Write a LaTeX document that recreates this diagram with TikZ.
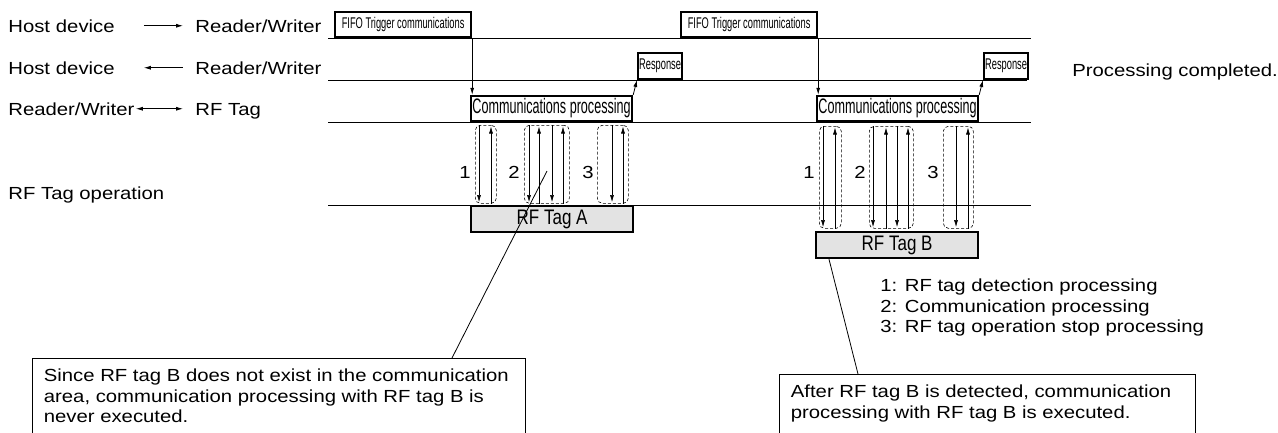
\documentclass[tikz,border=0pt]{standalone}
\usepackage{fontspec}
\setmainfont{Liberation Sans}[FakeStretch=1.16]
\newfontfamily\narrowfont[FakeStretch=0.6]{Liberation Sans}
\newfontfamily\tagfont[FakeStretch=0.81]{Liberation Sans}
\usetikzlibrary{arrows.meta,positioning}

\begin{document}
\begin{tikzpicture}[x=1pt, y=-1pt, >={Latex[length=7pt,width=4pt]}, line width=0.8pt,
	rowlbl/.style={anchor=base west, inner sep=0pt, font=\fontsize{17.5}{20.5}\selectfont},
	leftlbl/.style={rowlbl, text width=#1, align=left},
	thickbox/.style={draw, line width=2.2pt, inner sep=0pt, anchor=south west},
	fifobox/.style={thickbox, minimum width=136pt, minimum height=25pt, font=\narrowfont\fontsize{15.5}{15.5}\selectfont},
	commbox/.style={thickbox, minimum width=161pt, minimum height=25pt, font=\narrowfont\fontsize{21}{21}\selectfont},
	respbox/.style={thickbox, minimum width=44pt, minimum height=26pt, font=\narrowfont\fontsize{15.5}{15.5}\selectfont},
	tagbox/.style={thickbox, anchor=north west, fill=gray!22, minimum width=162pt, minimum height=26pt, font=\tagfont\fontsize{21}{21}\selectfont},
	grp/.style={draw, dash pattern=on 3pt off 2pt, rounded corners=5pt, line width=0.6pt, inner sep=0pt, anchor=north west, minimum width=#1},
	numlbl/.style={inner sep=0pt, font=\fontsize{17.5}{17.5}\selectfont},
	callout/.style={draw, anchor=north west, inner xsep=11.5pt, inner ysep=10.5pt, font=\fontsize{17.5}{20.5}\selectfont},
	timeline/.style={line width=0.8pt}]
	\useasboundingbox (0,0) rectangle (1278,432);
	\node[leftlbl=135pt] (hd1) at (8,32)  {Host device};
	\node[rowlbl]        (rw1) at (195,32) {Reader/Writer};
	\node[leftlbl=135pt] (hd2) at (8,74)  {Host device};
	\node[rowlbl]        (rw2) at (195,74) {Reader/Writer};
	\node[leftlbl=127pt] (rw3) at (8,115) {Reader/Writer};
	\node[rowlbl]        (tg3) at (195,115) {RF Tag};
	\node[rowlbl]        (op4) at (8,199)  {RF Tag operation};
	\node[rowlbl]        (done) at (1072,76) {Processing completed.};
	\draw[->, shorten >=12pt] (hd1.east) -- (rw1.west |- hd1.east);
	\draw[<-, shorten >=12pt] (hd2.east) -- (rw2.west |- hd2.east);
	\draw[<->, shorten >=12pt] (rw3.east) -- (tg3.west |- rw3.east);
	\draw[timeline] (328,38)  -- (1031,38);
	\draw[timeline] (328,80)  -- (1027,80);
	\draw[timeline] (328,122) -- (1031,122);
	\draw[timeline] (328,205) -- (1031,205);
	\node[fifobox] (fifo1) at (334,38)  {FIFO Trigger communications};
	\node[fifobox] (fifo2) at (680,38)  {FIFO Trigger communications};
	\node[commbox] (comm1) at (470,122) {Communications processing};
	\node[commbox] (comm2) at (816,122) {Communications processing};
	\node[respbox] (resp1) at (637,80)  {Response};
	\node[respbox] (resp2) at (983,80)  {Response};
	\node[tagbox]  (tagA)  at (470,205) {RF Tag A};
	\node[tagbox]  (tagB)  at (815,231) {RF Tag B};
	\draw[->] (fifo1.south east) -- (fifo1.south east |- comm1.north);
	\draw[->] (fifo2.south east) -- (fifo2.south east |- comm2.north);
	\draw[->] (comm1.north east) -- (resp1.south west);
	\draw[->] (comm2.north east) -- (resp2.south west);
	\node[grp=21pt, minimum height=78pt]  (gA1) at (475,125) {};
	\node[grp=45pt, minimum height=78pt]  (gA2) at (524,125) {};
	\node[grp=31pt, minimum height=78pt]  (gA3) at (597,125) {};
	\node[grp=22pt, minimum height=102pt] (gB1) at (819,126) {};
	\node[grp=44pt, minimum height=102pt] (gB2) at (869,126) {};
	\node[grp=30pt, minimum height=102pt] (gB3) at (943,126) {};
	\node[numlbl] (nA1) at (465,172) {1};
	\node[numlbl] (nA2) at (514,172) {2};
	\node[numlbl] (nA3) at (588,172) {3};
	\node[numlbl] (nB1) at (809,172) {1};
	\node[numlbl] (nB2) at (860,172) {2};
	\node[numlbl] (nB3) at (933,172) {3};
	\foreach \g/\dx in {gA1/4, gA2/5, gA2/28, gA3/15, gB1/4, gB2/4, gB2/28, gB3/13}
		\draw[->, line width=0.6pt, shorten >=1.5pt] ([xshift=\dx pt]\g.north west) -- ([xshift=\dx pt]\g.south west);
	\foreach \g/\dx in {gA1/16, gA2/15, gA2/39, gA3/26, gB1/16, gB2/17, gB2/39, gB3/25}
		\draw[->, line width=0.6pt, shorten >=1.5pt] ([xshift=\dx pt]\g.south west) -- ([xshift=\dx pt]\g.north west);
	\node[callout] (noteA) at (32,358) {\parbox[t][80pt][t]{470pt}{Since RF tag B does not exist in the communication\\ area, communication processing with RF tag B is\\ never executed.}};
	\node[callout] (noteB) at (779,374) {\parbox[t][70pt][t]{393pt}{After RF tag B is detected, communication\\ processing with RF tag B is executed.}};
	\node[anchor=north west, inner sep=0pt, align=left, font=\fontsize{17.5}{20.5}\selectfont] (key) at (880,278.5)
		{1: RF tag detection processing\\ 2: Communication processing\\ 3: RF tag operation stop processing};
	\coordinate (ptrA) at (547,171);
	\draw ([xshift=420pt]noteA.north west) -- (ptrA);
	\draw ([xshift=14pt]tagB.south west) -- ([xshift=79pt]noteB.north west);
\end{tikzpicture}
\end{document}
